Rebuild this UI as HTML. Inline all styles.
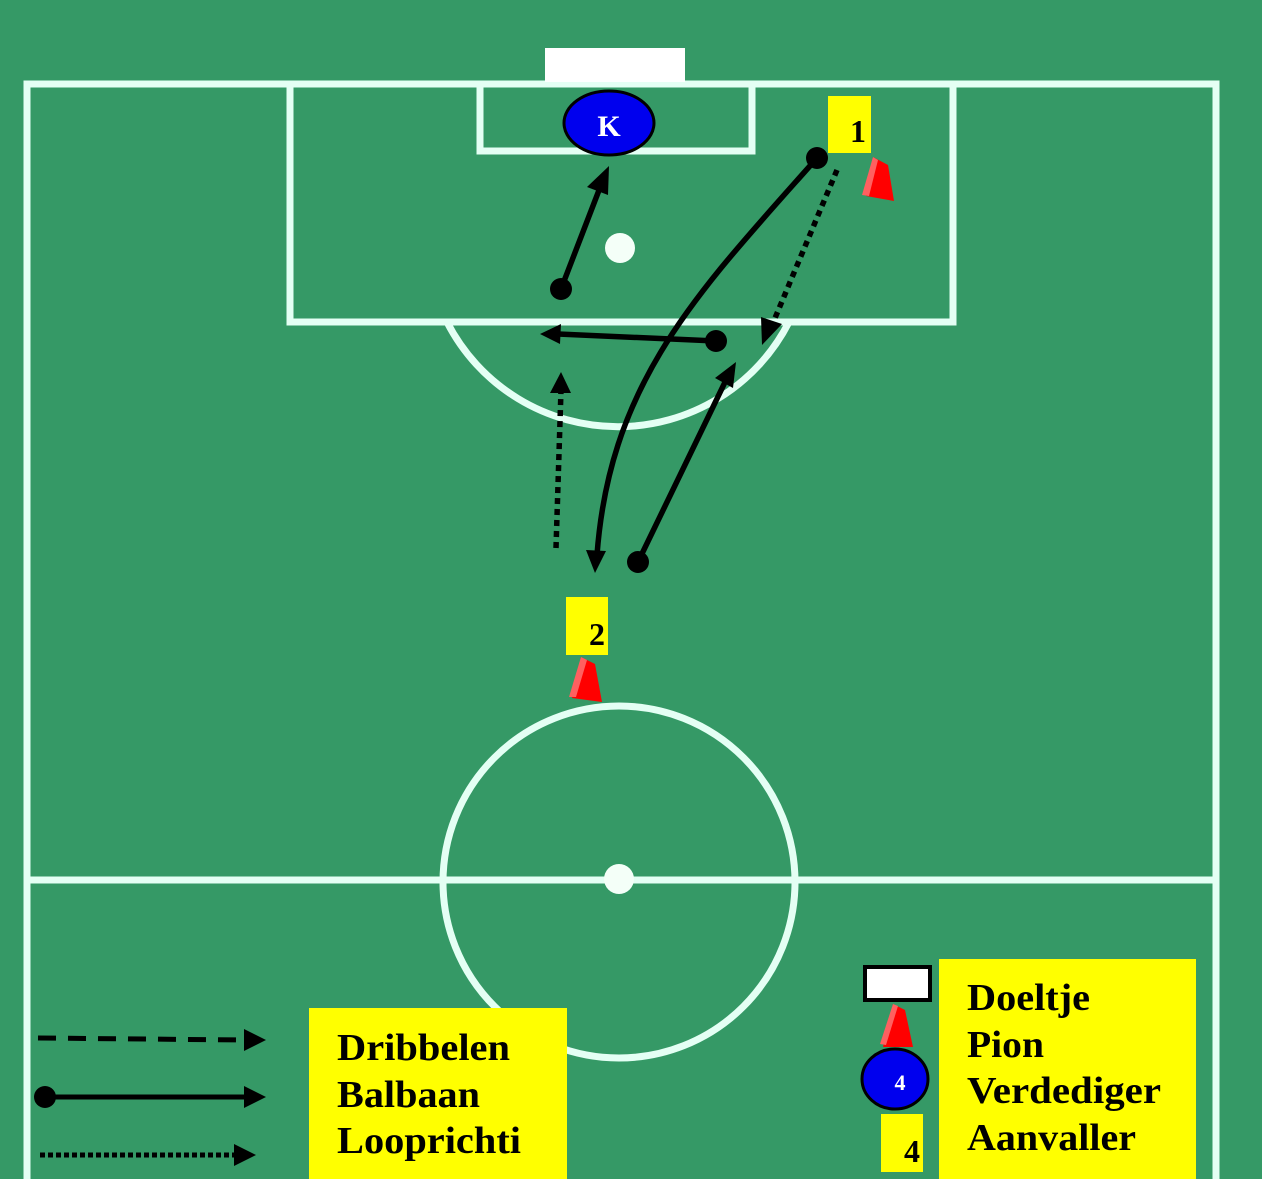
<!DOCTYPE html>
<html><head><meta charset="utf-8"><style>
html,body{margin:0;padding:0;background:#359966;}
svg{display:block}
text{font-family:"Liberation Serif",serif;font-weight:bold;}
</style></head><body>
<svg width="1262" height="1179" viewBox="0 0 1262 1179">
<rect width="1262" height="1179" fill="#359966"/>
<g fill="none" stroke="#e4fff4" stroke-width="7">
<path d="M27,1179 V84 H1216 V1179"/>
<line x1="27" y1="880" x2="1216" y2="880"/>
<rect x="290" y="84" width="663" height="238"/>
<rect x="480" y="84" width="272" height="67"/>
<path d="M447,322 A192,192 0 0 0 789,322"/>
<circle cx="619" cy="882" r="176"/>
</g>
<rect x="545" y="48" width="140" height="34" fill="#fff"/>
<circle cx="620" cy="248" r="15" fill="#f4fff8"/>
<circle cx="619" cy="879" r="15" fill="#f4fff8"/>
<ellipse cx="609" cy="123" rx="45" ry="32" fill="#0000ee" stroke="#000" stroke-width="3"/>
<text x="609" y="136" font-size="30" fill="#fff" text-anchor="middle">K</text>
<rect x="828" y="96" width="43" height="57" fill="#ffff00"/>
<text x="858" y="142" font-size="32" fill="#000" text-anchor="middle">1</text>
<rect x="566" y="597" width="42" height="58" fill="#ffff00"/>
<text x="597" y="645" font-size="32" fill="#000" text-anchor="middle">2</text>
<g>
<polygon points="873,157 866,196 894,201 888,165" fill="#ff0000"/>
<polygon points="873,157 878,160 869,196 862,195" fill="#ff6060"/>
<polygon points="581,657 572,698 602,702 595,664" fill="#ff0000"/>
<polygon points="581,657 587,660 576,697 569,697" fill="#ff6060"/>
<polygon points="893,1004 883,1047 913,1047 905,1010" fill="#ff0000"/>
<polygon points="893,1004 898,1006 886,1045 880,1044" fill="#ff6060"/>
</g>
<g stroke="#000" stroke-width="5.5" fill="none">
<line x1="561" y1="289" x2="601" y2="185"/>
<line x1="716" y1="341" x2="558" y2="334"/>
<path d="M817,158 C700,290 610,380 597,555"/>
<line x1="638" y1="562" x2="727" y2="378"/>
<line x1="837" y1="170" x2="770" y2="330" stroke-dasharray="6,5"/>
<line x1="556" y1="548" x2="561" y2="390" stroke-dasharray="6,5"/>
</g>
<g fill="#000">
<circle cx="561" cy="289" r="11"/>
<circle cx="716" cy="341" r="11"/>
<circle cx="817" cy="158" r="11"/>
<circle cx="638" cy="562" r="11"/>
<polygon points="609,166 587,187 608,195"/>
<polygon points="540,334 561,324 560,344"/>
<polygon points="595,573 586,550 606,551"/>
<polygon points="736,362 715,378 733,388"/>
<polygon points="762,345 761,317 782,324"/>
<polygon points="561,372 550,393 571,393"/>
</g>
<g stroke="#000" stroke-width="5" fill="none">
<line x1="38" y1="1038" x2="245" y2="1040" stroke-dasharray="18,12"/>
<line x1="44" y1="1097" x2="245" y2="1097"/>
<line x1="40" y1="1155" x2="238" y2="1155" stroke-dasharray="5,3"/>
</g>
<g fill="#000">
<polygon points="266,1040 244,1029 244,1051"/>
<polygon points="266,1097 244,1086 244,1108"/>
<polygon points="256,1155 234,1144 234,1166"/>
<circle cx="45" cy="1097" r="11"/>
</g>
<rect x="309" y="1008" width="258" height="171" fill="#ffff00"/>
<g font-size="38" fill="#000">
<text x="337" y="1060" textLength="173" lengthAdjust="spacingAndGlyphs">Dribbelen</text>
<text x="337" y="1107" textLength="143" lengthAdjust="spacingAndGlyphs">Balbaan</text>
<text x="337" y="1153" textLength="184" lengthAdjust="spacingAndGlyphs">Looprichti</text>
</g>
<rect x="865" y="967" width="65" height="33" fill="#fff" stroke="#000" stroke-width="4"/>
<ellipse cx="895" cy="1079" rx="33" ry="30" fill="#0000ee" stroke="#000" stroke-width="3"/>
<text x="900" y="1090" font-size="22" fill="#fff" text-anchor="middle">4</text>
<rect x="881" y="1114" width="42" height="58" fill="#ffff00"/>
<text x="912" y="1162" font-size="32" fill="#000" text-anchor="middle">4</text>
<rect x="939" y="959" width="257" height="220" fill="#ffff00"/>
<g font-size="38" fill="#000">
<text x="967" y="1010" textLength="123" lengthAdjust="spacingAndGlyphs">Doeltje</text>
<text x="967" y="1057" textLength="77" lengthAdjust="spacingAndGlyphs">Pion</text>
<text x="967" y="1103" textLength="194" lengthAdjust="spacingAndGlyphs">Verdediger</text>
<text x="967" y="1150" textLength="169" lengthAdjust="spacingAndGlyphs">Aanvaller</text>
</g>
</svg>
</body></html>
